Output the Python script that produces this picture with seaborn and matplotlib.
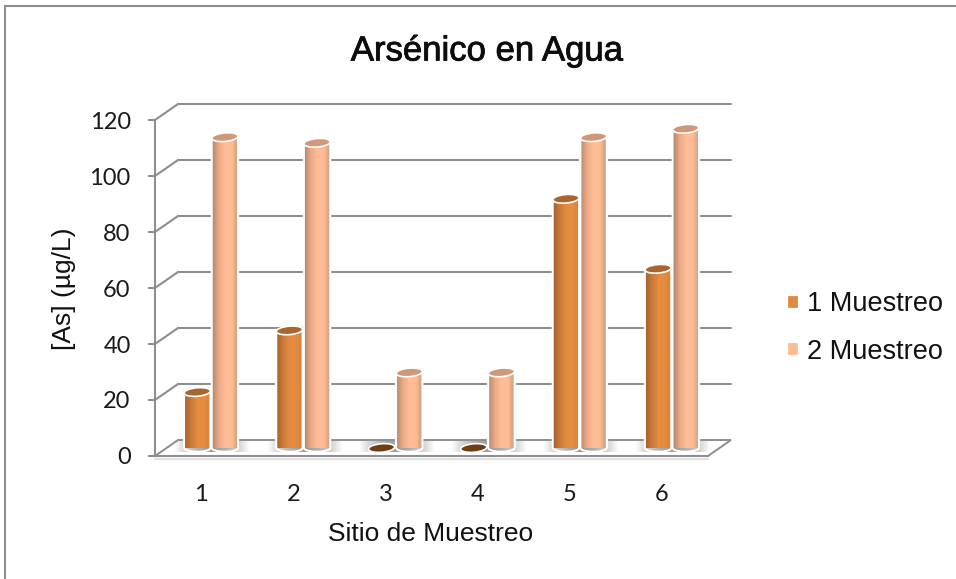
import numpy as np
import pandas as pd
import matplotlib
matplotlib.use("Agg")
import matplotlib.pyplot as plt
import matplotlib.patheffects as pe
from matplotlib.colors import LinearSegmentedColormap
from matplotlib.lines import Line2D
from matplotlib.patches import Ellipse, Polygon
from matplotlib.transforms import Affine2D
import seaborn as sns

sitios = ["1", "2", "3", "4", "5", "6"]
muestreo_1 = [20, 42, 0, 0, 89, 64]
muestreo_2 = [111, 109, 27, 27, 111, 114]
series = ["1 Muestreo", "2 Muestreo"]
y_ticks = [0, 20, 40, 60, 80, 100, 120]

W, H = 956, 579
GRAY = "#8e8e8e"

sns.set_theme(style="white")
plt.rcParams["font.family"] = ["Liberation Sans", "DejaVu Sans"]

df = pd.DataFrame({
    "sitio": sitios * 2,
    "serie": [series[0]] * 6 + [series[1]] * 6,
    "valor": muestreo_1 + muestreo_2,
})


def px_box(left, top, right, bottom):
    return [left / W, 1 - bottom / H, (right - left) / W, (bottom - top) / H]


fig = plt.figure(figsize=(W / 100, H / 100), dpi=100, facecolor="white")

# Outer chart frame: only the top and left sides fall inside the canvas
for xs, ys in (([5, W], [6, 6]), ([5, 5], [6, H])):
    fig.add_artist(Line2D(np.array(xs) / W, 1 - np.array(ys) / H,
                          color=GRAY, lw=1.5, transform=fig.transFigure))

# Front plane of the box; the back plane is reached with a fixed depth offset
ax = fig.add_axes(px_box(155, 120, 708, 456))
ax.set_xlim(-0.5, 5.5)
ax.set_ylim(0, 120)
depth_x = 23 * 6 / 553
depth_y = 16 * 120 / 336

ax.add_patch(Polygon([(-0.5, 0), (5.5, 0), (5.5 + depth_x, depth_y), (-0.5 + depth_x, depth_y)],
                     closed=True, facecolor="white", edgecolor=GRAY, lw=1.4, clip_on=False, zorder=1))
ax.plot([-0.5, 5.5], [-0.9, -0.9], color="#e2e2e2", lw=1.6, clip_on=False, zorder=0.9)
for t in y_ticks[1:]:
    ax.plot([-0.5, -0.5 + depth_x, 5.5 + depth_x], [t, t + depth_y, t + depth_y],
            color=GRAY, lw=1.5, clip_on=False, zorder=1, solid_joinstyle="miter")

# Soft cast shadows on the floor, one per site
shadow_rgba = np.zeros((1, 128, 4))
shadow_rgba[..., :3] = 0.45
shadow_rgba[0, :, 3] = 0.7 * np.clip(1 - np.abs(np.linspace(-1, 1, 128)) ** 1.6, 0, 1)
for i in range(len(sitios)):
    cx = i + 0.11
    ax.imshow(shadow_rgba, extent=(cx - 0.4, cx + 0.42, 1.4, 5.2),
              aspect="auto", zorder=1.2, interpolation="bilinear")
ax.set_xlim(-0.5, 5.5)
ax.set_ylim(0, 120)

ax.set_xticks(range(len(sitios)), sitios)
ax.set_yticks(y_ticks)
ax.tick_params(axis="x", length=0, pad=20, labelsize=17, labelcolor="#1a1a1a")
ax.tick_params(axis="y", length=5, width=1.5, color=GRAY, pad=12.5, labelsize=17,
               labelcolor="#1a1a1a", left=True)
for lab in ax.get_xticklabels() + ax.get_yticklabels():
    lab.set_fontfamily("Lato")
for side in ("top", "right"):
    ax.spines[side].set_visible(False)
for side in ("left", "bottom"):
    ax.spines[side].set_color(GRAY)
    ax.spines[side].set_linewidth(1.5)
ax.patch.set_alpha(0)
ax.set_xlabel("Sitio de Muestreo", fontsize=19, color="#111111")
ax.set_ylabel("[As] (µg/L)", fontsize=19, color="#111111")
ax.xaxis.set_label_coords(431 / W, 1 - 534 / H, transform=fig.transFigure)
ax.yaxis.set_label_coords(64 / W, 1 - 289 / H, transform=fig.transFigure)
ax.xaxis.label.set_verticalalignment("center")
ax.yaxis.label.set_verticalalignment("center")

title = fig.text(487 / W, 1 - 51 / H, "Arsénico en Agua", fontsize=25, ha="center", va="center",
                 color="#0c0c0c")
title.set_path_effects([pe.withStroke(linewidth=0.6, foreground="#0c0c0c")])

# Cylinders stand mid-depth on the floor, so their axes is nudged inward
bar_ax = fig.add_axes(px_box(165, 112, 718, 448))
bar_ax.patch.set_alpha(0)
sns.barplot(data=df, x="sitio", y="valor", hue="serie", order=sitios, hue_order=series,
            palette=["#E08A3E", "#FFBB93"], saturation=1, width=0.6, gap=0.05, ax=bar_ax,
            edgecolor="white", linewidth=1.6, errorbar=None, zorder=2)
bar_ax.set_xlim(-0.5, 5.5)
bar_ax.set_ylim(0, 120)
bar_ax.axis("off")

shades = [
    LinearSegmentedColormap.from_list("s1", ["#A4602C", "#C87A38", "#E48C40", "#E48C40", "#D58238"]),
    LinearSegmentedColormap.from_list("s2", ["#B08670", "#EBAA86", "#FFBE96", "#FFBC94", "#C4957B"]),
]
cap_colors = [("#A8652F", "#6F3D14"), ("#CF9878", "#CF9878")]
gradient = np.linspace(0, 1, 64)[None, :]

fig.canvas.draw()
to_px = bar_ax.transData
for k, container in enumerate(bar_ax.containers):
    for bar, val in zip(container.patches, (muestreo_1, muestreo_2)[k]):
        x0, w = bar.get_x(), bar.get_width()
        xm = x0 + w / 2
        if val > 0:
            theta = np.linspace(0, np.pi, 40)
            curve = np.column_stack([xm + w / 2 * np.cos(theta), -1.3 * np.sin(theta)])
            outline = np.vstack([[(x0, val), (x0 + w, val)], curve])
            body = Polygon(outline, closed=True, transform=bar_ax.transData, facecolor="none",
                           edgecolor="white", lw=1.4, clip_on=False, zorder=3.2)
            bar_ax.add_patch(body)
            im = bar_ax.imshow(gradient, extent=(x0, x0 + w, -1.4, val), aspect="auto",
                               cmap=shades[k], zorder=3, interpolation="bilinear")
            im.set_clip_path(body)
        # Elliptical top of the cylinder, tilted a little
        cx, cy = to_px.transform((xm, val))
        width_px = w / 6 * 553
        bar_ax.add_patch(Ellipse((0, 0), width_px, 8.5, angle=5, transform=Affine2D().translate(cx, cy),
                                 facecolor=cap_colors[k][0 if val > 0 else 1], edgecolor="white",
                                 lw=1.2, clip_on=False, zorder=4))
bar_ax.set_xlim(-0.5, 5.5)
bar_ax.set_ylim(0, 120)

handles, labels = bar_ax.get_legend_handles_labels()
if bar_ax.legend_:
    bar_ax.legend_.remove()
fig.legend(handles, labels, loc="center left", bbox_to_anchor=(782 / W, 1 - 328 / H),
           frameon=False, fontsize=19.5, handlelength=0.42, handleheight=0.42,
           handletextpad=0.3, labelspacing=0.78, labelcolor="#111111", borderpad=0.2,
           borderaxespad=0)

fig.savefig("out.png", dpi=100, facecolor="white")
